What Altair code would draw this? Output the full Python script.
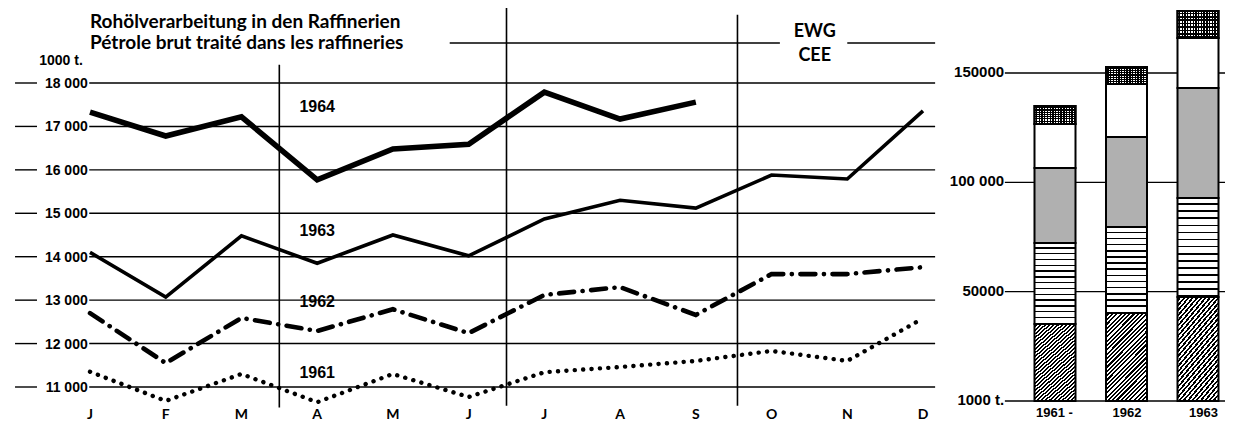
import altair as alt
import pandas as pd

# ---------------- data ----------------
month_labels = ["J", "F", "M", "A", "M", "J", "J", "A", "S", "O", "N", "D"]
s1964 = [17330, 16780, 17220, 15770, 16480, 16590, 17790, 17170, 17560]
s1963 = [14100, 13070, 14480, 13850, 14500, 14020, 14870, 15300, 15120, 15880, 15790, 17360]
s1962 = [12700, 11550, 12590, 12290, 12790, 12240, 13120, 13300, 12660, 13600, 13600, 13760]
s1961 = [11350, 10680, 11300, 10650, 11300, 10770, 11340, 11460, 11600, 11830, 11600, 12580]
series_names = ["1964", "1963", "1962", "1961"]
series_label_values = [17450, 14590, 12950, 11320]

grid_values = [11000, 12000, 13000, 14000, 15000, 16000, 17000, 18000]
grid_labels = ["11 000", "12 000", "13 000", "14 000", "15 000", "16 000", "17 000", "18 000"]

title_lines = ["Rohölverarbeitung in den Raffinerien", "Pétrole brut traité dans les raffineries"]
unit_label = "1000 t."
org_lines = ["EWG", "CEE"]

bar_years = [1961, 1962, 1963]
bar_year_labels = ["1961 -", "1962", "1963"]
seg_diag = [35200, 40200, 47600]
seg_horiz = [37100, 39400, 45200]
seg_dots = [34200, 41100, 50300]
seg_white = [20200, 24300, 22900]
seg_cross = [8200, 7700, 12400]
right_ticks = [0, 50000, 100000, 150000]
right_tick_labels = ["1000 t.", "50000", "100 000", "150000"]

# ---------------- scales ----------------
XL = alt.Scale(domain=[0, 11], range=[82, 915], nice=False, zero=False)
YL = alt.Scale(domain=[11000, 18000], range=[379, 75], nice=False, zero=False)
XR = alt.Scale(domain=[1961, 1963], range=[1042, 1195], nice=False, zero=False)
YR = alt.Scale(domain=[0, 150000], range=[393, 65], nice=False, zero=False)

NUM_FONT = "Liberation Sans"
COND_FONT = "Liberation Sans Narrow, Liberation Sans"
TITLE_FONT = "Lato"


def xl(f):
    return alt.X(f, type="quantitative", scale=XL, axis=None)


def yl(f):
    return alt.Y(f, type="quantitative", scale=YL, axis=None)


def xr(f):
    return alt.X(f, type="quantitative", scale=XR, axis=None)


def yr(f):
    return alt.Y(f, type="quantitative", scale=YR, axis=None)


layers = []

# ---------- left chart: grid ----------
grid_rows = []
for v in grid_values:
    grid_rows.append({"a": -0.99, "b": -0.70, "v": v})
    grid_rows.append({"a": -0.01, "b": 11.16, "v": v})
# the upper frame line, interrupted by title and EWG/CEE
grid_rows += [{"a": 4.75, "b": 9.11, "v": 18920}, {"a": 10.0, "b": 11.16, "v": 18920}]
layers.append(
    alt.Chart(pd.DataFrame(grid_rows)).mark_rule(color="black", strokeWidth=1.4)
    .encode(x=xl("a"), x2="b", y=yl("v"))
)

sep_rows = [
    {"m": 2.5, "y0": 18420, "y1": 10530},
    {"m": 5.5, "y0": 19730, "y1": 10570},
    {"m": 8.55, "y0": 19570, "y1": 10570},
]
layers.append(
    alt.Chart(pd.DataFrame(sep_rows)).mark_rule(color="black", strokeWidth=1.6)
    .encode(x=xl("m"), y=yl("y0"), y2="y1")
)

# ---------- left chart: lines ----------
rows = []
for name, vals in zip(series_names, [s1964, s1963, s1962, s1961]):
    for i, v in enumerate(vals):
        rows.append({"series": name, "m": i, "v": v})
lines_df = pd.DataFrame(rows)

styles = {
    "1964": dict(strokeWidth=5.6, strokeJoin="miter"),
    "1963": dict(strokeWidth=3.6, strokeJoin="miter"),
    "1962": dict(strokeWidth=4.6, strokeCap="round", strokeDash=[15, 8.5, 0.1, 8.5]),
    "1961": dict(strokeWidth=4.4, strokeCap="round", strokeDash=[0.1, 8.3]),
}
for name in series_names:
    layers.append(
        alt.Chart(lines_df).transform_filter(alt.datum.series == name)
        .mark_line(color="black", **styles[name])
        .encode(x=xl("m"), y=yl("v"), order="m:Q")
    )

# ---------- left chart: texts ----------
layers.append(
    alt.Chart(pd.DataFrame({"x": [-0.03] * len(grid_values), "v": grid_values, "t": grid_labels}))
    .mark_text(align="right", baseline="middle", font=NUM_FONT, fontSize=14, fontWeight="bold", dy=1)
    .encode(x=xl("x"), y=yl("v"), text="t:N")
)
layers.append(
    alt.Chart(pd.DataFrame({"m": list(range(12)), "v": [10350] * 12, "t": month_labels}))
    .mark_text(align="center", baseline="middle", font=TITLE_FONT, fontSize=14, fontWeight="bold")
    .encode(x=xl("m"), y=yl("v"), text="t:N")
)
layers.append(
    alt.Chart(pd.DataFrame({"m": [3] * 4, "v": series_label_values, "t": series_names}))
    .mark_text(align="center", baseline="middle", font=COND_FONT, fontSize=16, fontWeight="bold")
    .encode(x=xl("m"), y=yl("v"), text="t:N")
)
layers.append(
    alt.Chart(pd.DataFrame({"m": [0, 0], "v": [19266, 18783], "t": title_lines}))
    .mark_text(align="left", baseline="alphabetic", font=TITLE_FONT, fontSize=19, fontWeight="bold")
    .encode(x=xl("m"), y=yl("v"), text="t:N")
)
layers.append(
    alt.Chart(pd.DataFrame({"m": [-0.67], "v": [18414], "t": [unit_label]}))
    .mark_text(align="left", baseline="alphabetic", font=NUM_FONT, fontSize=14, fontWeight="bold")
    .encode(x=xl("m"), y=yl("v"), text="t:N")
)
layers.append(
    alt.Chart(pd.DataFrame({"m": [9.57, 9.57], "v": [19059, 18507], "t": org_lines}))
    .mark_text(align="center", baseline="alphabetic", font=TITLE_FONT, fontSize=18, fontWeight="bold")
    .encode(x=xl("m"), y=yl("v"), text="t:N")
)

# ---------- right chart ----------
layers.append(
    alt.Chart(pd.DataFrame({"a": [1960.41] * 4, "b": [1963.4] * 4, "v": right_ticks}))
    .mark_rule(color="black", strokeWidth=1.4)
    .encode(x=xr("a"), x2="b", y=yr("v"))
)
layers.append(
    alt.Chart(pd.DataFrame({"a": [1960.4] * 4, "v": right_ticks, "t": right_tick_labels}))
    .mark_text(align="right", baseline="middle", font=NUM_FONT, fontSize=15, fontWeight="bold", dy=-1)
    .encode(x=xr("a"), y=yr("v"), text="t:N")
)


def stripes(n, frac, x2, y2, c1="white", c2="black"):
    stops = []
    for k in range(n):
        a = k / n
        b = (k + 1 - frac) / n
        c = (k + 1) / n
        stops += [
            {"offset": a, "color": c1},
            {"offset": b, "color": c1},
            {"offset": b, "color": c2},
            {"offset": c, "color": c2},
        ]
    return {"gradient": "linear", "x1": 0, "y1": 0, "x2": x2, "y2": y2, "stops": stops}


seg_rows = []
for j, yv in enumerate(bar_years):
    base = 0
    for cat, seg in [("diag", seg_diag), ("horiz", seg_horiz), ("dots", seg_dots),
                     ("white", seg_white), ("cross", seg_cross)]:
        seg_rows.append({"year": yv, "cat": cat, "lo": base, "hi": base + seg[j]})
        base += seg[j]
seg_df = pd.DataFrame(seg_rows)

fills = {
    "diag": stripes(30, 0.5, 0.566, 1.205),
    "horiz": stripes(14, 0.25, 0, 1),
    "dots": "#b0b0b0",
    "white": "white",
    "cross": stripes(15, 0.5, 1, 0),
}
for cat in ["diag", "horiz", "dots", "white", "cross"]:
    layers.append(
        alt.Chart(seg_df).transform_filter(alt.datum.cat == cat)
        .mark_bar(size=41, fill=fills[cat], stroke="black", strokeWidth=2)
        .encode(x=xr("year"), y=yr("lo"), y2="hi")
    )
layers.append(
    alt.Chart(seg_df).transform_filter(alt.datum.cat == "cross")
    .mark_bar(size=41, fill=stripes(8, 0.5, 0, 1, c1="rgba(0,0,0,0)", c2="black"),
              stroke="black", strokeWidth=2)
    .encode(x=xr("year"), y=yr("lo"), y2="hi")
)

layers.append(
    alt.Chart(pd.DataFrame({"year": bar_years, "v": [-5300] * 3, "t": bar_year_labels}))
    .mark_text(align="left", baseline="middle", font=NUM_FONT, fontSize=13, fontWeight="bold", dx=-14)
    .encode(x=xr("year"), y=yr("v"), text="t:N")
)

chart = (
    alt.layer(*layers)
    .resolve_scale(x="independent", y="independent")
    .properties(width=1217, height=415, autosize="none", padding=0)
    .configure_view(strokeWidth=0)
)

chart.save("out.html", embed_options={"renderer": "svg", "actions": False})
